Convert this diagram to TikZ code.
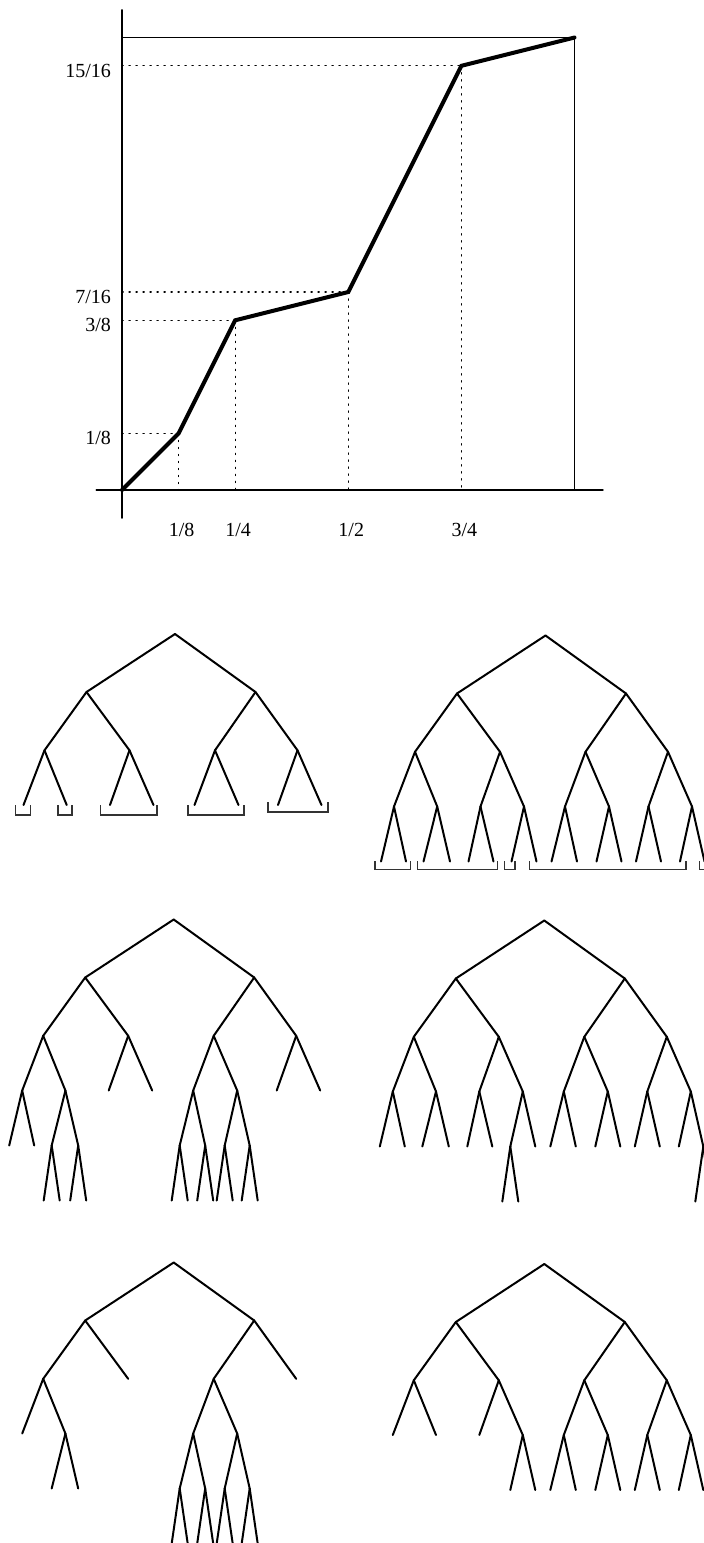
\documentclass[tikz,border=0pt]{standalone}
\usepackage{fontspec}
\setmainfont{Liberation Serif}
\usepackage{tkz-euclide}

\tikzset{
  curve/.style={line width=2pt},
  frame/.style={line width=0.7pt},
  guide/.style={line width=0.6pt,dash pattern=on 0.6pt off 2.9pt},
  branch/.style={line width=1pt},
  bracket/.style={line width=0.6pt,black!80},
}

% points of one tree, named by the path from the root (0 = left, 1 = right)
\newcommand\TreePoints[1]{%
\tkzDefPoints{0/0/#1,%
-88.5/58/#10,80.5/58/#11,%
-130.5/116.3/#100,-45.5/116.3/#101,40/116.3/#110,122.5/116.3/#111,%
-151.5/171/#1000,-108.3/171/#1001,-65/171/#1010,-21.5/171/#1011,%
19.5/171/#1100,63.5/171/#1101,103/171/#1110,146.5/171/#1111}%
\tkzDefPoints{-164.5/226/#10000,-139.5/226/#10001,-122/226/#10010,-95.5/226/#10011,%
-77/226/#10100,-52/226/#10101,-34/226/#10110,-9/226/#10111,%
6/226/#11000,31.5/226/#11001,51/226/#11010,76/226/#11011,%
90.5/226/#11100,115.5/226/#11101,134.5/226/#11110,159/226/#11111}%
\tkzDefPoints{-130/281/#100100,-114/281/#100101,-103.5/281/#100110,-87.5/281/#100111,%
-42/281/#101100,-26/281/#101101,%
-2/281/#110000,14/281/#110001,23.5/281/#110010,39.5/281/#110011,%
43/281/#110100,59/281/#110101,68/281/#110110,84/281/#110111,%
151/281/#111110,167/281/#111111}}
% the two branches below a node
\newcommand\Kids[2]{\tkzDrawSegments[branch](#1#2,#1#20 #1#2,#1#21)}

\begin{document}
\begin{tikzpicture}[x=0.5pt,y=-0.5pt,font=\fontsize{11.6}{14}\selectfont]
\useasboundingbox (0,0) rectangle (704,1543);
\clip (0,0) rectangle (704,1543);

% the graph
\begin{scope}[shift={(122,490)},x=226.25pt,y=226.25pt]
\tkzDefPoints{0/0/O,0.125/0.125/P1,0.25/0.375/P2,0.5/0.4375/P3,0.75/0.9375/P4,1/1/P5}
\tkzDefPoints{0.125/0/X1,0.25/0/X2,0.5/0/X3,0.75/0/X4,1/0/X5}
\tkzDefPoints{0/0.125/Y1,0/0.375/Y2,0/0.4375/Y3,0/0.9375/Y4,0/1/Y5}
\tkzDefPoints{-0.057/0/XL,1.063/0/XR,0/-0.062/YD,0/1.061/YU}

\tkzDrawSegments[frame](XL,XR YD,YU Y5,P5 P5,X5)
\tkzDrawSegments[guide](Y1,P1 Y2,P2 Y3,P3 Y4,P4 P1,X1 P2,X2 P3,X3 P4,X4)
\tkzDrawPolySeg[curve](O,P1,P2,P3,P4,P5)

\tkzLabelPoint[left=2pt,yshift=-2.5pt](Y1){1/8}
\tkzLabelPoint[left=2pt,yshift=-2.5pt](Y2){3/8}
\tkzLabelPoint[left=2pt,yshift=-2.5pt](Y3){7/16}
\tkzLabelPoint[left=2pt,yshift=-2.5pt](Y4){15/16}
\tkzLabelPoint[below=13pt,xshift=1.5pt](X1){1/8}
\tkzLabelPoint[below=13pt,xshift=1.5pt](X2){1/4}
\tkzLabelPoint[below=13pt,xshift=1.5pt](X3){1/2}
\tkzLabelPoint[below=13pt,xshift=1.5pt](X4){3/4}
\end{scope}

% first row
\begin{scope}[shift={(175,634)}]
\TreePoints{A}
\Kids{A}{}
\foreach \p in {0,1,00,01,10,11} {\Kids{A}{\p}}
\draw[bracket] (-159.3,171) |- (-144.3,181) -- (-144.3,171);
\draw[bracket] (-117,171) |- (-103,181) -- (-103,171);
\draw[bracket] (-74.3,171) |- (-18,181) -- (-18,171);
\draw[bracket] (13,171) |- (69,181) -- (69,171);
\draw[bracket] (93,168) |- (153,178) -- (153,168);
\end{scope}

\begin{scope}[shift={(545.5,635.5)}]
\TreePoints{B}
\Kids{B}{}
\foreach \p in {0,1,00,01,10,11,000,001,010,011,100,101,110,111} {\Kids{B}{\p}}
\draw[bracket] (-170.5,225.5) |- (-134.8,234) -- (-134.8,225.5);
\draw[bracket] (-128.2,225.5) |- (-48.2,234) -- (-48.2,225.5);
\draw[bracket] (-41.2,225.5) |- (-30.5,234) -- (-30.5,225.5);
\draw[bracket] (-16.2,225.5) |- (140.5,234) -- (140.5,225.5);
\draw[bracket] (153.8,225.5) |- (185,234) -- (185,225.5);
\end{scope}

% second row
\begin{scope}[shift={(173.7,919.5)}]
\TreePoints{C}
\Kids{C}{}
\foreach \p in {0,1,00,01,10,11,000,001,100,101,0010,0011,1000,1001,1010,1011} {\Kids{C}{\p}}
\end{scope}

\begin{scope}[shift={(544.3,920.5)}]
\TreePoints{D}
\Kids{D}{}
\foreach \p in {0,1,00,01,10,11,000,001,010,011,100,101,110,111,0110,1111} {\Kids{D}{\p}}
\end{scope}

% third row
\begin{scope}[shift={(173.7,1262.5)}]
\TreePoints{E}
\Kids{E}{}
\foreach \p in {0,1,00,10,001,100,101,1000,1001,1010,1011} {\Kids{E}{\p}}
\end{scope}

\begin{scope}[shift={(544.3,1264)}]
\TreePoints{F}
\Kids{F}{}
\foreach \p in {0,1,00,01,10,11,011,100,101,110,111} {\Kids{F}{\p}}
\end{scope}

\end{tikzpicture}
\end{document}
